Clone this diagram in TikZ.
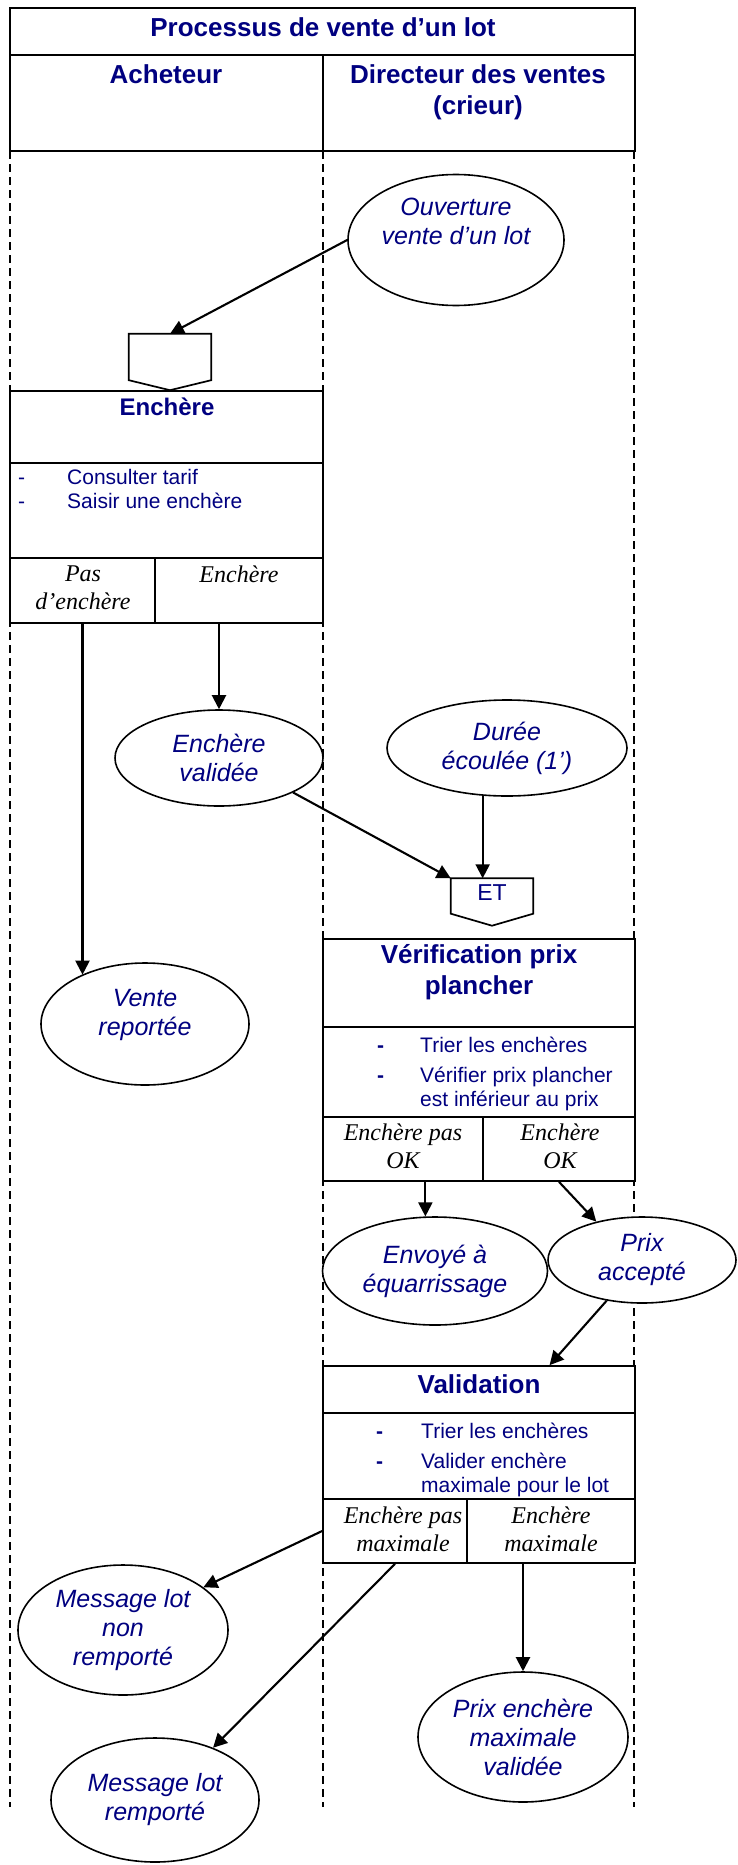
\documentclass[tikz,border=0pt]{standalone}
\usepackage{fontspec}
\setmainfont{Liberation Serif}
\setsansfont{Liberation Sans}
\usepackage{tikz}
\usetikzlibrary{fit}
\usetikzlibrary{calc}
\usetikzlibrary{shapes.geometric}
\usetikzlibrary{arrows.meta}
\definecolor{bleu}{RGB}{0,0,128}

\tikzset{
	cadre/.style={draw, fill=white, line width=1.7pt, inner sep=0pt},
	entete/.style={cadre, line width=2.4pt},
	evt/.style={ellipse, draw, fill=white, line width=1.6pt, inner sep=-30pt, text=bleu,
		align=center, font=\sffamily\itshape\fontsize{25}{29}\selectfont},
	titre/.style={anchor=north, inner sep=0pt, text=bleu, align=center,
		font=\sffamily\bfseries\fontsize{26}{31}\selectfont},
	liste/.style={anchor=north west, inner sep=0pt, text=bleu, align=left,
		font=\sffamily\fontsize{21}{24}\selectfont},
	cas/.style={anchor=north, inner sep=0pt, align=center,
		font=\rmfamily\itshape\fontsize{24}{27.5}\selectfont},
	fleche/.style={-{Triangle[length=14pt,width=14pt]}, line width=2.1pt},
	couloir/.style={line width=1.2pt, dash pattern=on 8pt off 5pt}
}

\begin{document}
\begin{tikzpicture}[x=1pt, y=-1pt]
	\useasboundingbox (0,0) rectangle (737,1865);

	\draw[couloir] (10,151) -- (10,1807);	% couloirs
	\draw[couloir] (323,151) -- (323,1807);
	\draw[couloir] (634,151) -- (634,1807);

	\node[entete, fit={(10,8) (635,55)}] (proc) {};	% en-tete
	\node[titre] (proct) at (323,17) {Processus de vente d’un lot};
	\node[entete, fit={(10,55) (323,151)}] (ach) {};
	\node[titre] (acht) at (166,64) {Acheteur};
	\node[entete, fit={(323,55) (635,151)}] (dir) {};
	\node[titre] (dirt) at (478,64) {Directeur des ventes\\(crieur)};

	\node[evt, minimum width=216pt, minimum height=131pt] (ouv) at (456,240) {Ouverture\\vente d’un lot\\[8pt]\mbox{}};

	\node[fit={(129,334) (211,380)}, inner sep=0pt] (c1) {};	% connecteur
	\draw[line width=1.7pt] (c1.north west) -- (c1.south west) -- ($(c1.south)+(0,10)$) -- (c1.south east) -- (c1.north east) -- cycle;

	\node[cadre, fit={(10,391) (323,463)}] (ench) {};	% Enchere
	\node[cadre, fit={(10,463) (323,558)}] (enchl) {};
	\node[cadre, fit={(10,558) (155,623)}] (pas) {};
	\node[cadre, fit={(155,558) (323,623)}] (ench1) {};
	\node[titre, font=\sffamily\bfseries\fontsize{24}{28}\selectfont] (encht) at (167,397.5) {Enchère};
	\node[liste] (enchlt) at (18,468.7) {\makebox[49pt][l]{-}Consulter tarif\\\makebox[49pt][l]{-}Saisir une enchère};
	\node[cas] (past) at (83,566) {Pas\\d’enchère};
	\node[cas] (ench1t) at (239,566) {Enchère};

	\node[evt, minimum width=208pt, minimum height=96pt] (ev) at (219,758) {Enchère\\validée};
	\node[evt, minimum width=240pt, minimum height=96pt] (du) at (507,748) {Durée\\écoulée (1’)};
	\node[evt, minimum width=208pt, minimum height=122pt] (vr) at (145,1024) {Vente\\reportée\\[-6pt]\mbox{}};

	\node[fit={(451,874) (533,918)}, inner sep=0pt, text=bleu, text depth=13pt,
		font=\sffamily\fontsize{23}{27}\selectfont] (et) {ET};	% connecteur ET
	\draw[line width=1.7pt] (et.north west) -- (et.south west) -- ($(et.south)+(0,12)$) -- (et.south east) -- (et.north east) -- cycle;

	\node[cadre, fit={(323,939) (635,1027)}] (verif) {};	% Verification
	\node[cadre, fit={(323,1027) (635,1117)}] (verifl) {};
	\node[cadre, fit={(323,1117) (483,1181)}] (vpnok) {};
	\node[cadre, fit={(483,1117) (635,1181)}] (vpok) {};
	\node[titre] (veriftt) at (479,944) {Vérification prix\\plancher};
	\node[liste] (veriflt) at (377,1036.5) {\makebox[43pt][l]{\textbf{-}}Trier les enchères\\[6pt]\makebox[43pt][l]{\textbf{-}}Vérifier prix plancher\\\hspace*{43pt}est inférieur au prix};
	\node[cas] (vpnokt) at (403,1124) {Enchère pas\\OK};
	\node[cas] (vpokt) at (560,1124) {Enchère\\OK};

	\node[evt, minimum width=225pt, minimum height=108pt] (env) at (435,1271) {Envoyé à\\équarrissage};
	\node[evt, minimum width=188pt, minimum height=86pt] (pa) at (642,1260) {Prix\\accepté};

	\node[cadre, fit={(323,1366) (635,1413)}] (valid) {};	% Validation
	\node[cadre, fit={(323,1413) (635,1499)}] (validl) {};
	\node[cadre, fit={(323,1499) (467,1563)}] (nmax) {};
	\node[cadre, fit={(467,1499) (635,1563)}] (max) {};
	\node[titre] (validt) at (479,1374) {Validation};
	\node[liste] (validlt) at (376,1422.5) {\makebox[45pt][l]{\textbf{-}}Trier les enchères\\[6pt]\makebox[45pt][l]{\textbf{-}}Valider enchère\\\hspace*{45pt}maximale pour le lot};
	\node[cas] (nmaxt) at (403,1507) {Enchère pas\\maximale};
	\node[cas] (maxt) at (551,1507) {Enchère\\maximale};

	\node[evt, minimum width=210pt, minimum height=130pt] (mnr) at (123,1630) {Message lot\\non\\remporté};
	\node[evt, minimum width=208pt, minimum height=124pt] (mr) at (155,1800) {Message lot\\remporté};
	\node[evt, minimum width=210pt, minimum height=130pt] (pe) at (523,1737) {Prix enchère\\maximale\\validée};

	\draw[fleche] (ouv.west) -- (c1.north);	% fleches
	\draw[fleche] (pas.south) -- (pas.south |- vr.142);
	\draw[fleche] (ench1.south -| ev.north) -- (ev.north);
	\draw[fleche] (ev.south east) -- (et.north west);
	\draw[fleche] (du.243) -- (du.243 |- et.north);
	\draw[fleche] (vpnok.south -| env.100) -- (env.100);
	\draw[fleche] (vpok.south) -- (pa.140);
	\draw[fleche] (pa.229) -- ($(valid.north)!0.45!(valid.north east)$);
	\draw[fleche] (nmax.west) -- (mnr.28);
	\draw[fleche] (nmax.south) -- (mr.42);
	\draw[fleche] (max.south -| pe.north) -- (pe.north);
\end{tikzpicture}
\end{document}
